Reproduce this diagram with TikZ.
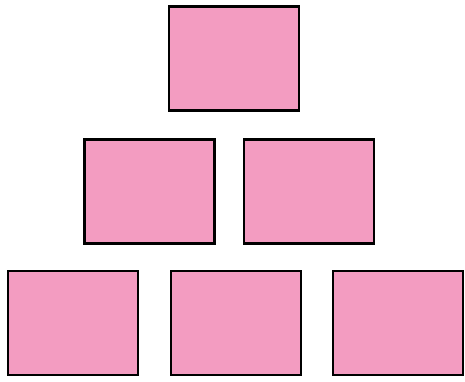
\documentclass[tikz,border=0pt]{standalone}
\usepackage{tikz}
\usetikzlibrary{positioning}
\definecolor{boxpink}{RGB}{243,156,193}
\tikzset{
  pbox/.style={rectangle, draw=black, fill=boxpink, line width=2.8pt,
    minimum width=130pt, minimum height=104pt, inner sep=0pt}
}
\begin{document}
\begin{tikzpicture}[x=1pt, y=-1pt, node distance=29pt and 29pt]
  \useasboundingbox (0,0) rectangle (465,381);
  % top row
  \node[pbox] (top) at (234,58.5) {};
  % middle row
  \node[pbox] (midl) at (149.5,191.5) {};
  \node[pbox] (midr) at (309,191.5) {};
  % bottom row
  \node[pbox] (botl) at (73,323) {};
  \node[pbox] (botm) at (236,323) {};
  \node[pbox] (botr) at (398,323) {};
\end{tikzpicture}
\end{document}
